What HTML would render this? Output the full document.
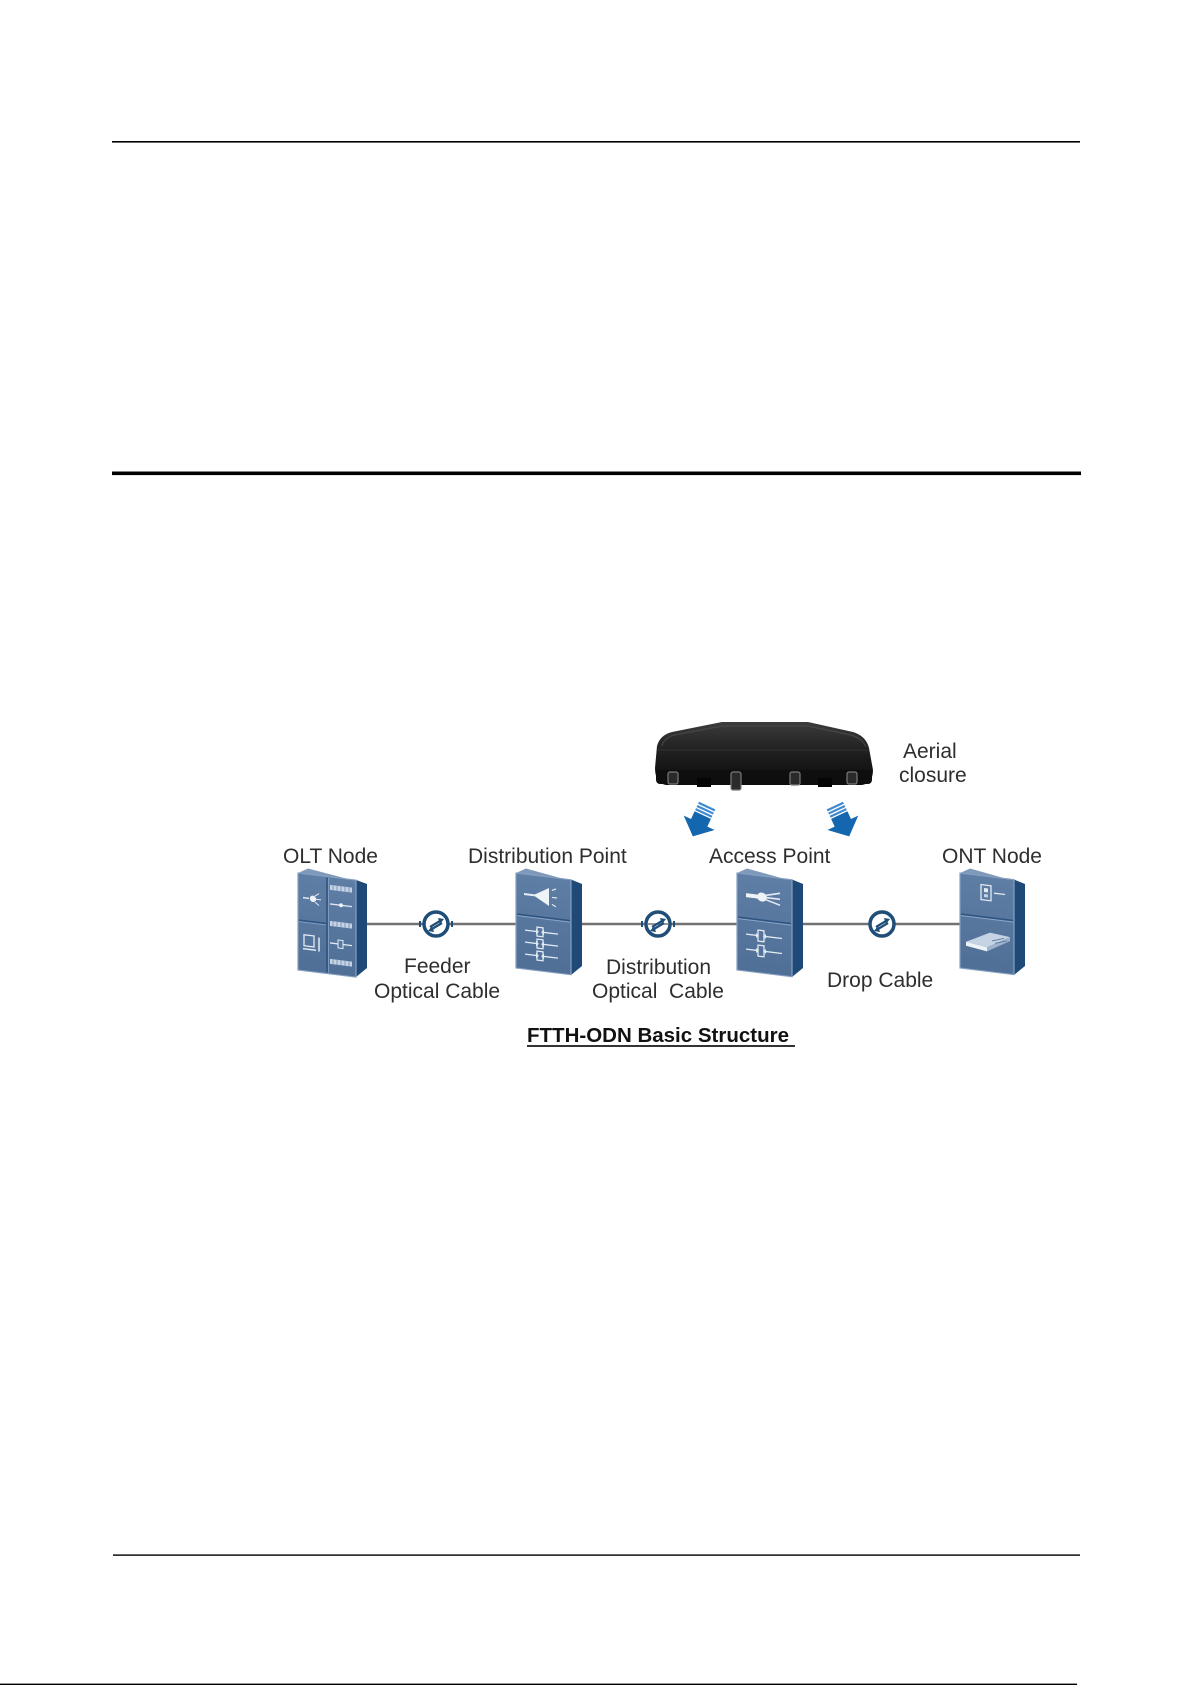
<!DOCTYPE html>
<html>
<head>
<meta charset="utf-8">
<style>
  html,body{margin:0;padding:0;background:#ffffff;}
  svg{display:block;}
  text{font-family:"Liberation Sans",Arial,sans-serif;}
</style>
</head>
<body>
<svg width="1192" height="1685" viewBox="0 0 1192 1685" xmlns="http://www.w3.org/2000/svg">
  <defs>
    <linearGradient id="clos" x1="0" y1="0" x2="0" y2="1">
      <stop offset="0" stop-color="#3c3c3c"/>
      <stop offset="0.35" stop-color="#262626"/>
      <stop offset="0.6" stop-color="#1a1a1a"/>
      <stop offset="1" stop-color="#0c0c0c"/>
    </linearGradient>
    <linearGradient id="front" x1="0" y1="0" x2="0" y2="1">
      <stop offset="0" stop-color="#5e7ea5"/>
      <stop offset="1" stop-color="#4f6f97"/>
    </linearGradient>
  </defs>

  <rect width="1192" height="1685" fill="#ffffff"/>

  <!-- page rules -->
  <rect x="112" y="141" width="968" height="1.6" fill="#000"/>
  <rect x="112" y="471.5" width="969" height="3.6" fill="#000"/>
  <rect x="113" y="1554.4" width="967" height="1.4" fill="#000"/>
  <rect x="0" y="1683.6" width="1077" height="1.4" fill="#000"/>

  <!-- cable lines -->
  <g stroke="#727272" stroke-width="2.6">
    <line x1="366" y1="924" x2="517" y2="924"/>
    <line x1="582" y1="924" x2="738" y2="924"/>
    <line x1="803" y1="924" x2="961" y2="924"/>
  </g>

  <!-- ===== OLT device ===== -->
  <polygon points="298,873 308,868.5 367,884 356,880" fill="#7f99ba"/>
  <polygon points="356,880 367,884 367,968 356,977" fill="#1f4a78"/>
  <g transform="translate(298,873) skewY(7)">
    <rect x="0" y="0" width="58" height="97" fill="url(#front)" stroke="#86a0c0" stroke-width="1.2"/>
    <line x1="29" y1="1" x2="29" y2="96" stroke="#2d5381" stroke-width="1.5"/>
    <line x1="30.5" y1="1" x2="30.5" y2="96" stroke="#8aa4c4" stroke-width="0.8"/>
    <line x1="1" y1="47" x2="28" y2="47" stroke="#2d5381" stroke-width="1.5"/>
    <line x1="1" y1="48.5" x2="28" y2="48.5" stroke="#8aa4c4" stroke-width="0.8"/>
    <line x1="5" y1="24" x2="11" y2="24" stroke="#e3eaf3" stroke-width="1.5"/>
    <circle cx="15" cy="24" r="3.2" fill="#eef3f8"/>
    <g stroke="#e3eaf3" stroke-width="1">
      <line x1="18" y1="24" x2="23" y2="24"/>
      <line x1="17" y1="21" x2="21" y2="18"/>
      <line x1="17" y1="27" x2="21" y2="30"/>
    </g>
    <rect x="6" y="61" width="10" height="11" fill="none" stroke="#e3eaf3" stroke-width="1.3"/>
    <line x1="5" y1="75" x2="18" y2="75" stroke="#e3eaf3" stroke-width="1.5"/>
    <line x1="21" y1="62" x2="21" y2="76" stroke="#e3eaf3" stroke-width="1.5"/>
    <g fill="#c5d3e4">
      <rect x="32" y="8" width="22" height="5"/>
      <rect x="32" y="44" width="22" height="5"/>
      <rect x="32" y="82" width="22" height="5"/>
    </g>
    <g stroke="#6d8bb0" stroke-width="0.8">
      <line x1="35" y1="8" x2="35" y2="13"/><line x1="39" y1="8" x2="39" y2="13"/><line x1="43" y1="8" x2="43" y2="13"/><line x1="47" y1="8" x2="47" y2="13"/><line x1="51" y1="8" x2="51" y2="13"/>
      <line x1="35" y1="44" x2="35" y2="49"/><line x1="39" y1="44" x2="39" y2="49"/><line x1="43" y1="44" x2="43" y2="49"/><line x1="47" y1="44" x2="47" y2="49"/><line x1="51" y1="44" x2="51" y2="49"/>
      <line x1="35" y1="82" x2="35" y2="87"/><line x1="39" y1="82" x2="39" y2="87"/><line x1="43" y1="82" x2="43" y2="87"/><line x1="47" y1="82" x2="47" y2="87"/><line x1="51" y1="82" x2="51" y2="87"/>
    </g>
    <line x1="32" y1="27" x2="54" y2="27" stroke="#e3eaf3" stroke-width="1.3"/>
    <circle cx="43" cy="27" r="2" fill="#eef3f8"/>
    <line x1="32" y1="66" x2="54" y2="66" stroke="#e3eaf3" stroke-width="1.3"/>
    <rect x="40" y="62" width="5" height="8" fill="#587aa0" stroke="#e3eaf3" stroke-width="1"/>
  </g>

  <!-- ===== Distribution Point device ===== -->
  <polygon points="516,873 526,868.5 582,884 571,880" fill="#7f99ba"/>
  <polygon points="571,879.5 582,884 582,966 571,975" fill="#1f4a78"/>
  <g transform="translate(516,873) skewY(7)">
    <rect x="0" y="0" width="55" height="95" fill="url(#front)" stroke="#86a0c0" stroke-width="1.2"/>
    <line x1="1" y1="41" x2="54" y2="41" stroke="#2d5381" stroke-width="1.5"/>
    <line x1="1" y1="42.5" x2="54" y2="42.5" stroke="#8aa4c4" stroke-width="0.9"/>
    <line x1="8" y1="20" x2="20" y2="20" stroke="#e6edf5" stroke-width="2"/>
    <polygon points="19,19 33,11 33,29 19,21" fill="#eef3f8"/>
    <g stroke="#e3eaf3" stroke-width="1.2">
      <line x1="36" y1="13" x2="40" y2="11"/>
      <line x1="36" y1="20" x2="41" y2="20"/>
      <line x1="36" y1="27" x2="40" y2="29"/>
    </g>
    <g stroke="#e3eaf3" stroke-width="1.3" fill="none">
      <line x1="9" y1="56" x2="20" y2="56"/><rect x="21" y="51.5" width="6" height="9"/><line x1="28" y1="56" x2="42" y2="56"/>
      <line x1="9" y1="68" x2="20" y2="68"/><rect x="21" y="63.5" width="6" height="9"/><line x1="28" y1="68" x2="42" y2="68"/>
      <line x1="9" y1="80" x2="20" y2="80"/><rect x="21" y="75.5" width="6" height="9"/><line x1="28" y1="80" x2="42" y2="80"/>
    </g>
    <g fill="#e3eaf3">
      <polygon points="20,53.5 20,58.5 23,56"/><polygon points="28,53.5 28,58.5 25,56"/>
      <polygon points="20,65.5 20,70.5 23,68"/><polygon points="28,65.5 28,70.5 25,68"/>
      <polygon points="20,77.5 20,82.5 23,80"/><polygon points="28,77.5 28,82.5 25,80"/>
    </g>
  </g>

  <!-- ===== Access Point device ===== -->
  <polygon points="737,873 747,868.5 803,884 792,880" fill="#7f99ba"/>
  <polygon points="792,879.5 803,884 803,968 792,977" fill="#1f4a78"/>
  <g transform="translate(737,873) skewY(7)">
    <rect x="0" y="0" width="55" height="97" fill="url(#front)" stroke="#86a0c0" stroke-width="1.2"/>
    <line x1="1" y1="44" x2="54" y2="44" stroke="#2d5381" stroke-width="1.5"/>
    <line x1="1" y1="45.5" x2="54" y2="45.5" stroke="#8aa4c4" stroke-width="0.9"/>
    <polygon points="9,19 20,19 22,23 9,23" fill="#eef3f8"/>
    <ellipse cx="25" cy="21" rx="5" ry="4.5" fill="#eef3f8"/>
    <g stroke="#e3eaf3" stroke-width="1.6">
      <line x1="28" y1="19" x2="43" y2="15"/>
      <line x1="29" y1="21" x2="43" y2="21"/>
      <line x1="28" y1="23" x2="43" y2="27"/>
    </g>
    <g stroke="#e3eaf3" stroke-width="1.3" fill="none">
      <line x1="9" y1="60" x2="20" y2="60"/><rect x="21" y="54.5" width="6" height="11"/><line x1="28" y1="60" x2="45" y2="60"/>
      <line x1="9" y1="75" x2="20" y2="75"/><rect x="21" y="69.5" width="6" height="11"/><line x1="28" y1="75" x2="45" y2="75"/>
    </g>
    <g fill="#e3eaf3">
      <polygon points="19,57.5 19,62.5 22,60"/><polygon points="29,57.5 29,62.5 26,60"/>
      <polygon points="19,72.5 19,77.5 22,75"/><polygon points="29,72.5 29,77.5 26,75"/>
    </g>
  </g>

  <!-- ===== ONT device ===== -->
  <polygon points="960,873 970,868.5 1025,884 1014,880" fill="#7f99ba"/>
  <polygon points="1014,879.5 1025,884 1025,966 1014,975" fill="#1f4a78"/>
  <g transform="translate(960,873) skewY(7)">
    <rect x="0" y="0" width="54" height="95" fill="url(#front)" stroke="#86a0c0" stroke-width="1.2"/>
    <line x1="1" y1="41" x2="53" y2="41" stroke="#2d5381" stroke-width="1.5"/>
    <line x1="1" y1="42.5" x2="53" y2="42.5" stroke="#8aa4c4" stroke-width="0.9"/>
    <rect x="21" y="9" width="10" height="15" fill="none" stroke="#e3eaf3" stroke-width="1.3"/>
    <rect x="24" y="12" width="4" height="4" fill="#e3eaf3"/>
    <rect x="24" y="18" width="4" height="3" fill="#c5d3e4"/>
    <line x1="34" y1="16" x2="45" y2="16" stroke="#e3eaf3" stroke-width="1.3"/>
    <polygon points="6,68 30,56 50,58 27,71" fill="#c5d3e4"/>
    <polygon points="6,68 27,71 27,75 6,72" fill="#eef3f8"/>
    <polygon points="27,71 50,58 50,62 27,75" fill="#9fb3cc"/>
    <g stroke="#587aa0" stroke-width="0.9">
      <line x1="32" y1="64" x2="44" y2="60"/>
      <line x1="35" y1="66" x2="47" y2="62"/>
    </g>
  </g>

  <!-- ===== cable coupler icons ===== -->
  <g>
    <g transform="translate(436,924)">
      <line x1="-16" y1="-3" x2="-16" y2="3" stroke="#1f4e79" stroke-width="2"/>
      <line x1="16" y1="-3" x2="16" y2="3" stroke="#1f4e79" stroke-width="2"/>
      <circle r="12" fill="#ffffff" stroke="#1f4e79" stroke-width="3.5"/>
      <path d="M-6,3 L4,-3" stroke="#1f4e79" stroke-width="2.2" fill="none"/>
      <polygon points="2,-6 8,-5 4,0" fill="#1f4e79"/>
      <path d="M6,-1 L-4,5" stroke="#1f4e79" stroke-width="2.2" fill="none"/>
      <polygon points="-2,8 -8,7 -4,2" fill="#1f4e79"/>
    </g>
    <g transform="translate(658,924)">
      <line x1="-16" y1="-3" x2="-16" y2="3" stroke="#1f4e79" stroke-width="2"/>
      <line x1="16" y1="-3" x2="16" y2="3" stroke="#1f4e79" stroke-width="2"/>
      <circle r="12" fill="#ffffff" stroke="#1f4e79" stroke-width="3.5"/>
      <line x1="-11" y1="0" x2="11" y2="0" stroke="#767676" stroke-width="1.5"/>
      <path d="M-6,3 L4,-3" stroke="#1f4e79" stroke-width="2.2" fill="none"/>
      <polygon points="2,-6 8,-5 4,0" fill="#1f4e79"/>
      <path d="M6,-1 L-4,5" stroke="#1f4e79" stroke-width="2.2" fill="none"/>
      <polygon points="-2,8 -8,7 -4,2" fill="#1f4e79"/>
    </g>
    <g transform="translate(882,924)">
      <circle r="12" fill="#ffffff" stroke="#1f4e79" stroke-width="3.5"/>
      <path d="M-6,3 L4,-3" stroke="#1f4e79" stroke-width="2.2" fill="none"/>
      <polygon points="2,-6 8,-5 4,0" fill="#1f4e79"/>
      <path d="M6,-1 L-4,5" stroke="#1f4e79" stroke-width="2.2" fill="none"/>
      <polygon points="-2,8 -8,7 -4,2" fill="#1f4e79"/>
    </g>
  </g>

  <!-- ===== Aerial closure ===== -->
  <g>
    <path d="M655,768 L657,746 Q660,735 672,732 L722,722 L808,722 L853,732 Q866,736 869,748 L873,770 Q873,783 862,785 L666,785 Q655,783 655,768 Z" fill="url(#clos)"/>
    <path d="M662,746 Q664,738 674,735 L722,726 L808,726 L851,735 Q862,738 866,747" fill="none" stroke="#4a4a4a" stroke-width="1.5" opacity="0.7"/>
    <path d="M658,750 L868,750" stroke="#3a3a3a" stroke-width="1.2" opacity="0.6"/>
    <rect x="656" y="770" width="216" height="14" rx="4" fill="#0e0e0e"/>
    <g fill="#2a2a2a" stroke="#7a7a7a" stroke-width="1.2">
      <rect x="668" y="772" width="10" height="12" rx="2"/>
      <rect x="731" y="772" width="10" height="18" rx="2"/>
      <rect x="790" y="772" width="10" height="13" rx="2"/>
      <rect x="847" y="772" width="10" height="12" rx="2"/>
    </g>
    <g fill="#050505">
      <rect x="697" y="778" width="14" height="9"/>
      <rect x="818" y="778" width="14" height="9"/>
    </g>
  </g>

  <!-- arrows -->
  <g transform="translate(700,821) rotate(25)">
    <g fill="#3f8ad0">
      <rect x="-9" y="-17" width="18" height="2.2"/>
      <rect x="-9" y="-13.5" width="18" height="2.2"/>
      <rect x="-9" y="-10" width="18" height="2.2"/>
    </g>
    <rect x="-9" y="-6.5" width="18" height="9" fill="#1467ae"/>
    <polygon points="-17,2 17,2 0,17" fill="#1467ae"/>
  </g>
  <g transform="translate(842,821) rotate(-25)">
    <g fill="#3f8ad0">
      <rect x="-9" y="-17" width="18" height="2.2"/>
      <rect x="-9" y="-13.5" width="18" height="2.2"/>
      <rect x="-9" y="-10" width="18" height="2.2"/>
    </g>
    <rect x="-9" y="-6.5" width="18" height="9" fill="#1467ae"/>
    <polygon points="-17,2 17,2 0,17" fill="#1467ae"/>
  </g>

  <!-- ===== labels ===== -->
  <g font-size="21" fill="#2e2e2e">
    <text x="283" y="863">OLT Node</text>
    <text x="468" y="863">Distribution Point</text>
    <text x="709" y="863">Access Point</text>
    <text x="942" y="863">ONT Node</text>
    <text x="903" y="758">Aerial</text>
    <text x="899" y="782">closure</text>
    <text x="404" y="973">Feeder</text>
    <text x="374" y="998">Optical Cable</text>
    <text x="606" y="974">Distribution</text>
    <text x="592" y="998" xml:space="preserve">Optical  Cable</text>
    <text x="827" y="987">Drop Cable</text>
  </g>
  <text x="527" y="1042" font-size="20.5" font-weight="bold" fill="#111">FTTH-ODN Basic Structure</text>
  <rect x="527" y="1045" width="268" height="2" fill="#333"/>
</svg>
</body>
</html>
